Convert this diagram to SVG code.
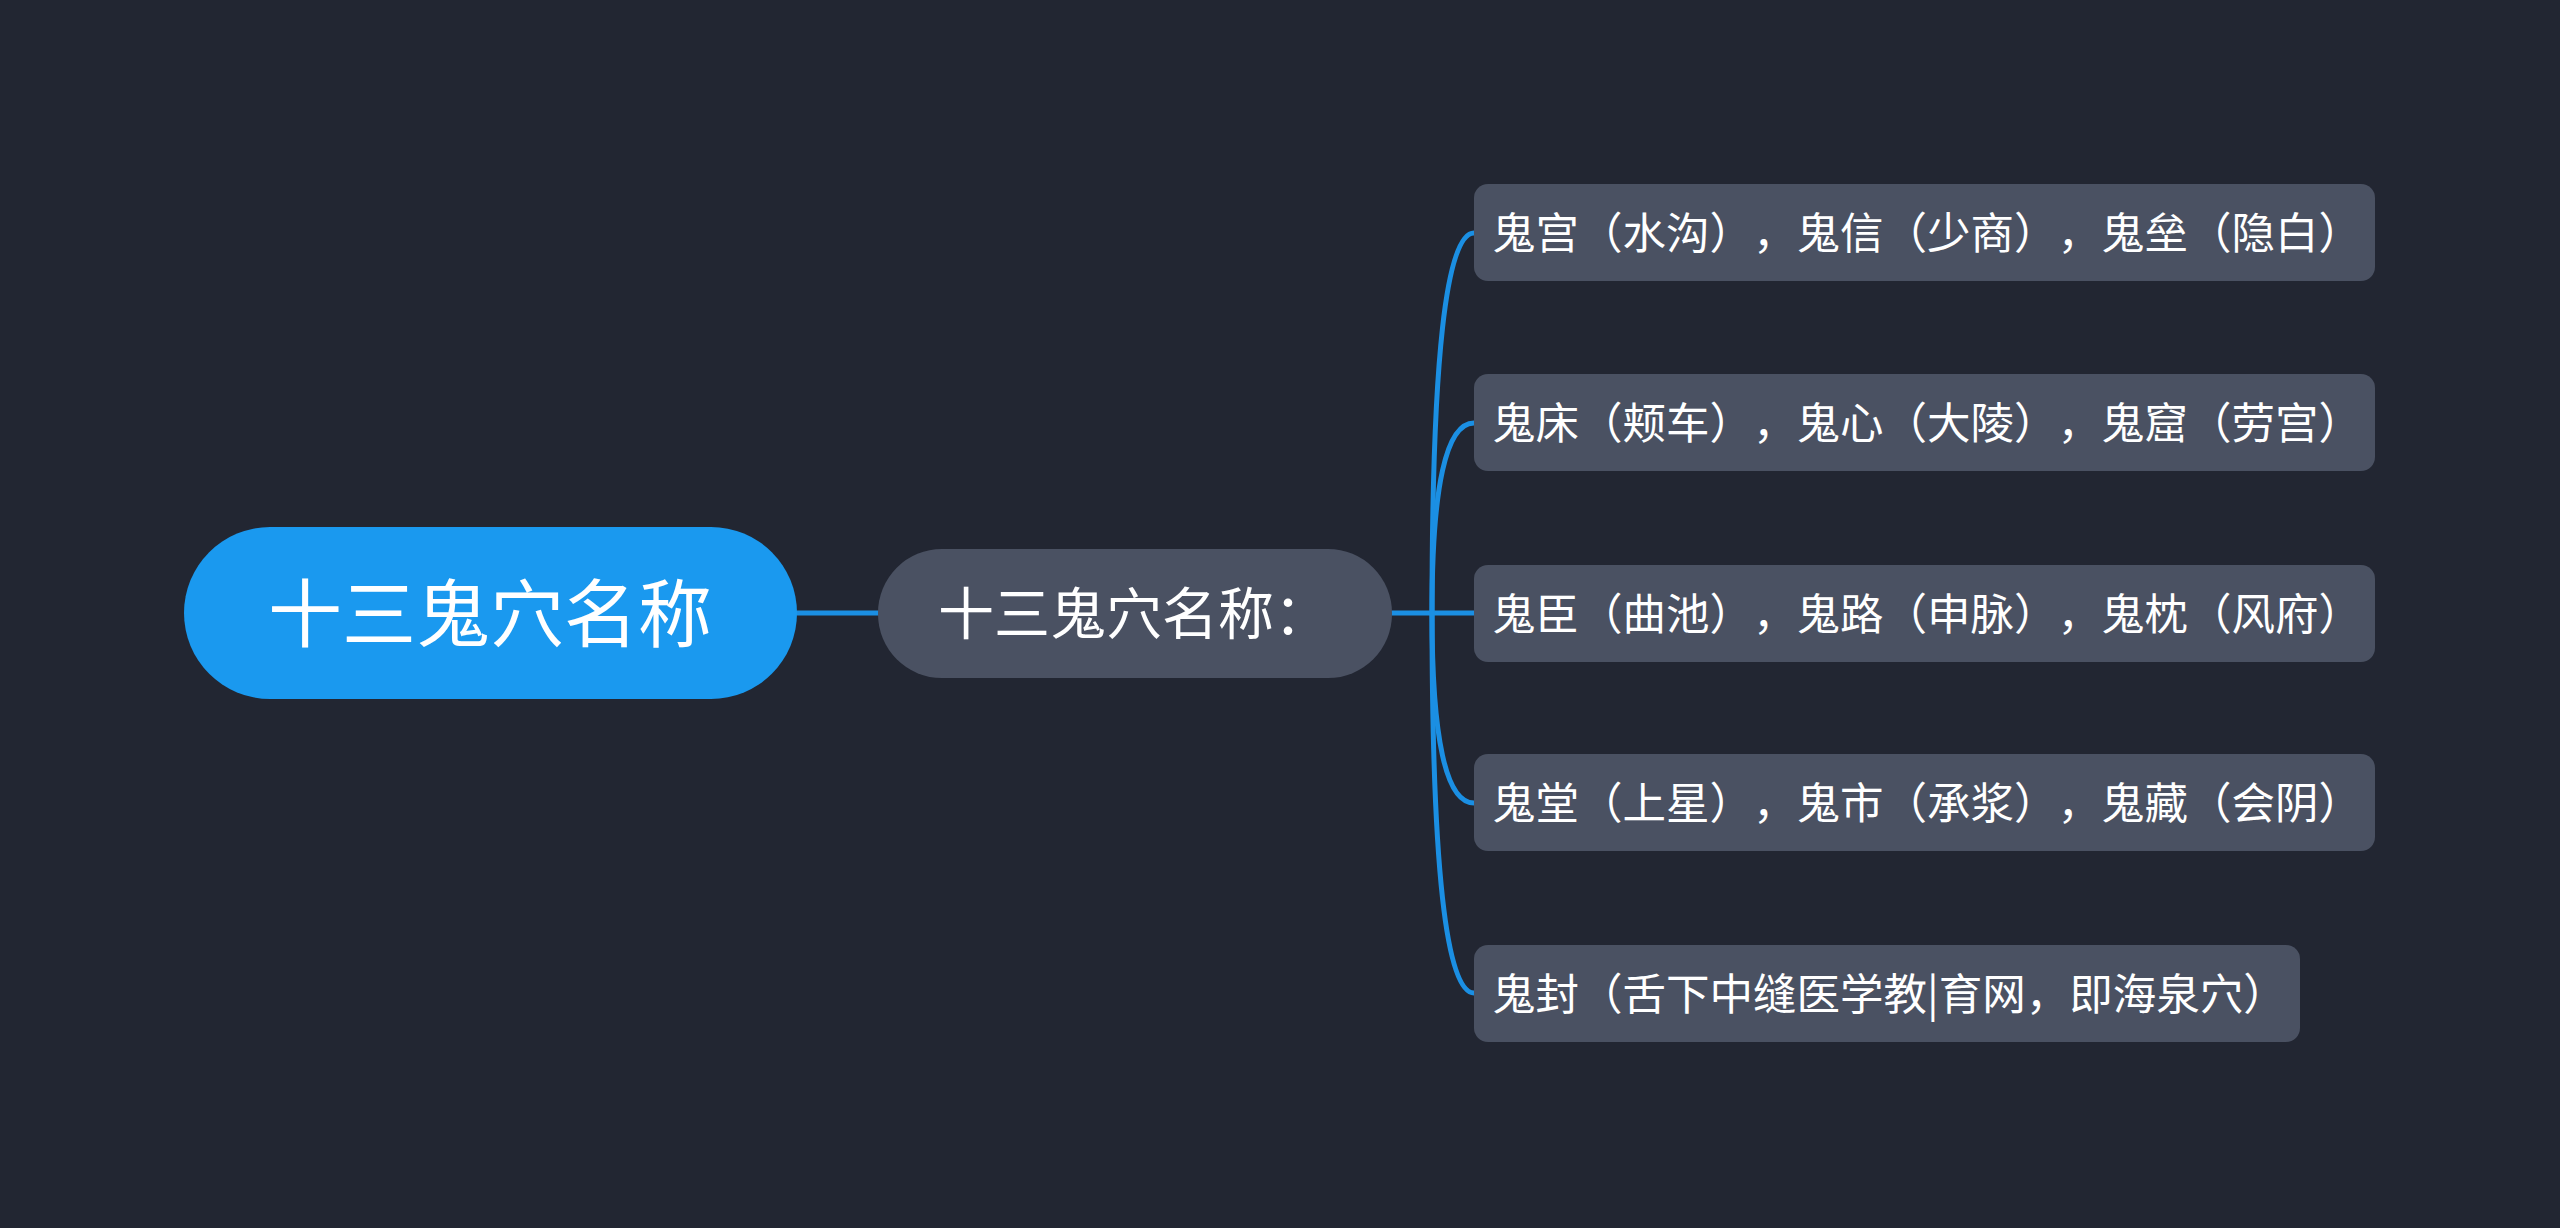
<svg xmlns="http://www.w3.org/2000/svg" width="2560" height="1228" viewBox="0 0 2560 1228">
<style>
.t{font-family:"Noto Sans CJK SC","Noto Sans",sans-serif;fill:#ffffff;text-spacing-trim:space-all;font-feature-settings:"halt" 0,"palt" 0}
.lt{font-size:43.5px}
.leaf{fill:#4a5162}
.c{fill:none;stroke:#1b8fe3;stroke-width:5;stroke-linecap:round}
</style>
<rect width="2560" height="1228" fill="#222632"/>
<g id="connectors">
<path class="c" d="M797 613 L878 613"/>
<path class="c" d="M1392 613 L1474 613"/>
<path class="c" d="M1432 613 Q1432 233 1474 233"/>
<path class="c" d="M1432 613 Q1432 423 1474 423"/>
<path class="c" d="M1432 613 Q1432 803 1474 803"/>
<path class="c" d="M1432 613 Q1432 993 1474 993"/>
</g>
<g id="root">
<rect x="184" y="527" width="613" height="172" rx="86" fill="#1a99ef"/>
<text class="t" x="490" y="641" font-size="74" text-anchor="middle">十三鬼穴名称</text>
</g>
<g id="mid">
<rect x="878" y="549" width="514" height="129" rx="64" class="leaf"/>
<text class="t" x="938" y="634" font-size="56">十三鬼穴名称：</text>
</g>
<g id="leaf1">
<rect x="1474" y="184" width="901" height="97" rx="14" class="leaf"/>
<text class="t lt" x="1492" y="249">鬼宫（水沟），鬼信（少商），鬼垒（隐白）</text>
</g>
<g id="leaf2">
<rect x="1474" y="374" width="901" height="97" rx="14" class="leaf"/>
<text class="t lt" x="1492" y="439">鬼床（颊车），鬼心（大陵），鬼窟（劳宫）</text>
</g>
<g id="leaf3">
<rect x="1474" y="565" width="901" height="97" rx="14" class="leaf"/>
<text class="t lt" x="1492" y="630">鬼臣（曲池），鬼路（申脉），鬼枕（风府）</text>
</g>
<g id="leaf4">
<rect x="1474" y="754" width="901" height="97" rx="14" class="leaf"/>
<text class="t lt" x="1492" y="819">鬼堂（上星），鬼市（承浆），鬼藏（会阴）</text>
</g>
<g id="leaf5">
<rect x="1474" y="945" width="826" height="97" rx="14" class="leaf"/>
<text class="t lt" x="1492" y="1010">鬼封（舌下中缝医学教|育网，即海泉穴）</text>
</g>
</svg>
